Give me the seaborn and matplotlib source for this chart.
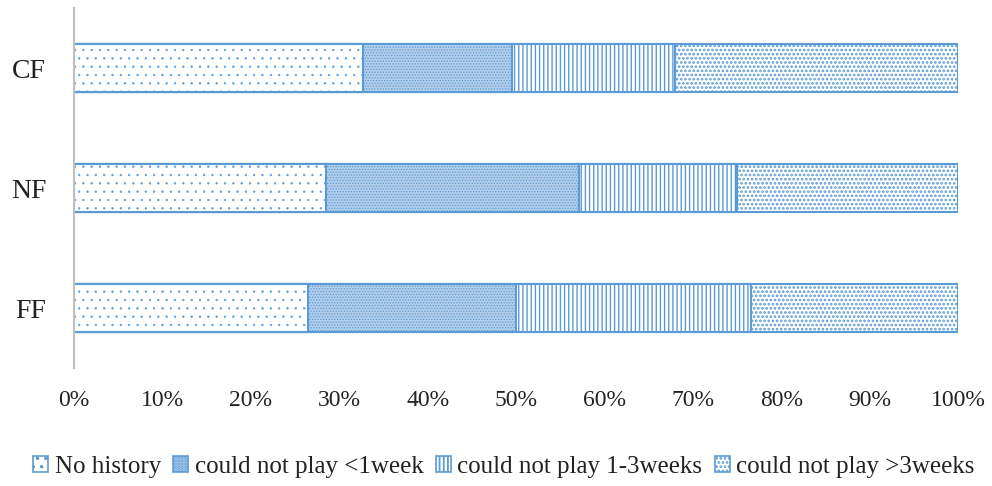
import matplotlib
matplotlib.use("Agg")
import matplotlib.pyplot as plt
import seaborn as sns
import pandas as pd
import numpy as np
from matplotlib.patches import Patch
from matplotlib.ticker import PercentFormatter

# Share of players (%) per injury-history category, by group
groups = ["CF", "NF", "FF"]
series_names = ["No history", "could not play <1week",
                "could not play 1-3weeks", "could not play >3weeks"]
no_history = [32.7, 28.5, 26.5]
lt_1week = [16.8, 28.6, 23.5]
wk_1_3 = [18.5, 17.9, 26.6]
gt_3weeks = [32.0, 25.0, 23.4]
x_ticks = [0, 10, 20, 30, 40, 50, 60, 70, 80, 90, 100]

EDGE = "#5B9BD5"
styles = [
    dict(face="white", hatch="..", hlw=0.45),
    dict(face="#B3CEEB", hatch="......", hlw=0.6),
    dict(face="white", hatch="||||", hlw=1.0),
    dict(face="white", hatch="....", hlw=1.3),
]

sns.set_theme(style="white")
plt.rcParams["font.family"] = ["Liberation Serif", "DejaVu Serif"]
plt.rcParams["hatch.color"] = EDGE

fig = plt.figure(figsize=(9.92, 4.86), dpi=100)
ax = fig.add_axes([74 / 992, 1 - 368 / 486, 884 / 992, 360 / 486])

df = pd.DataFrame({"group": groups,
                   series_names[0]: no_history,
                   series_names[1]: lt_1week,
                   series_names[2]: wk_1_3,
                   series_names[3]: gt_3weeks})
cum = df[series_names].cumsum(axis=1)

# Stack by overlaying cumulative bars, widest first
for i in reversed(range(len(series_names))):
    st = styles[i]
    plt.rcParams["hatch.linewidth"] = st["hlw"]
    sns.barplot(x=cum[series_names[i]], y=df["group"], orient="h", ax=ax,
                color=st["face"], saturation=1, errorbar=None, width=0.4,
                edgecolor=EDGE, linewidth=1.5, hatch=st["hatch"])

ax.set_xlim(0, 100)
ax.set_ylim(2.5, -0.5)
ax.set_xticks(x_ticks)
ax.xaxis.set_major_formatter(PercentFormatter(decimals=0))
ax.set_xlabel("")
ax.set_ylabel("")
ax.tick_params(axis="x", length=0, pad=16, labelsize=17, colors="#222222")
ax.tick_params(axis="y", length=0, pad=20, labelsize=20, colors="#222222")
for s in ["top", "right", "bottom"]:
    ax.spines[s].set_visible(False)
ax.spines["left"].set_color("#BFBFBF")
ax.spines["left"].set_linewidth(1.5)

handles = []
for st, name in zip(styles, series_names):
    plt.rcParams["hatch.linewidth"] = st["hlw"]
    handles.append(Patch(facecolor=st["face"], edgecolor=EDGE, hatch=st["hatch"],
                         linewidth=1.2, label=name))
fig.legend(handles=handles, loc="center", bbox_to_anchor=(0.508, 1 - 467 / 486),
           ncol=4, frameon=False, fontsize=18, handlelength=0.6,
           handleheight=0.6, handletextpad=0.25, columnspacing=0.5,
           labelcolor="#222222")

fig.savefig("out.png", dpi=100)
